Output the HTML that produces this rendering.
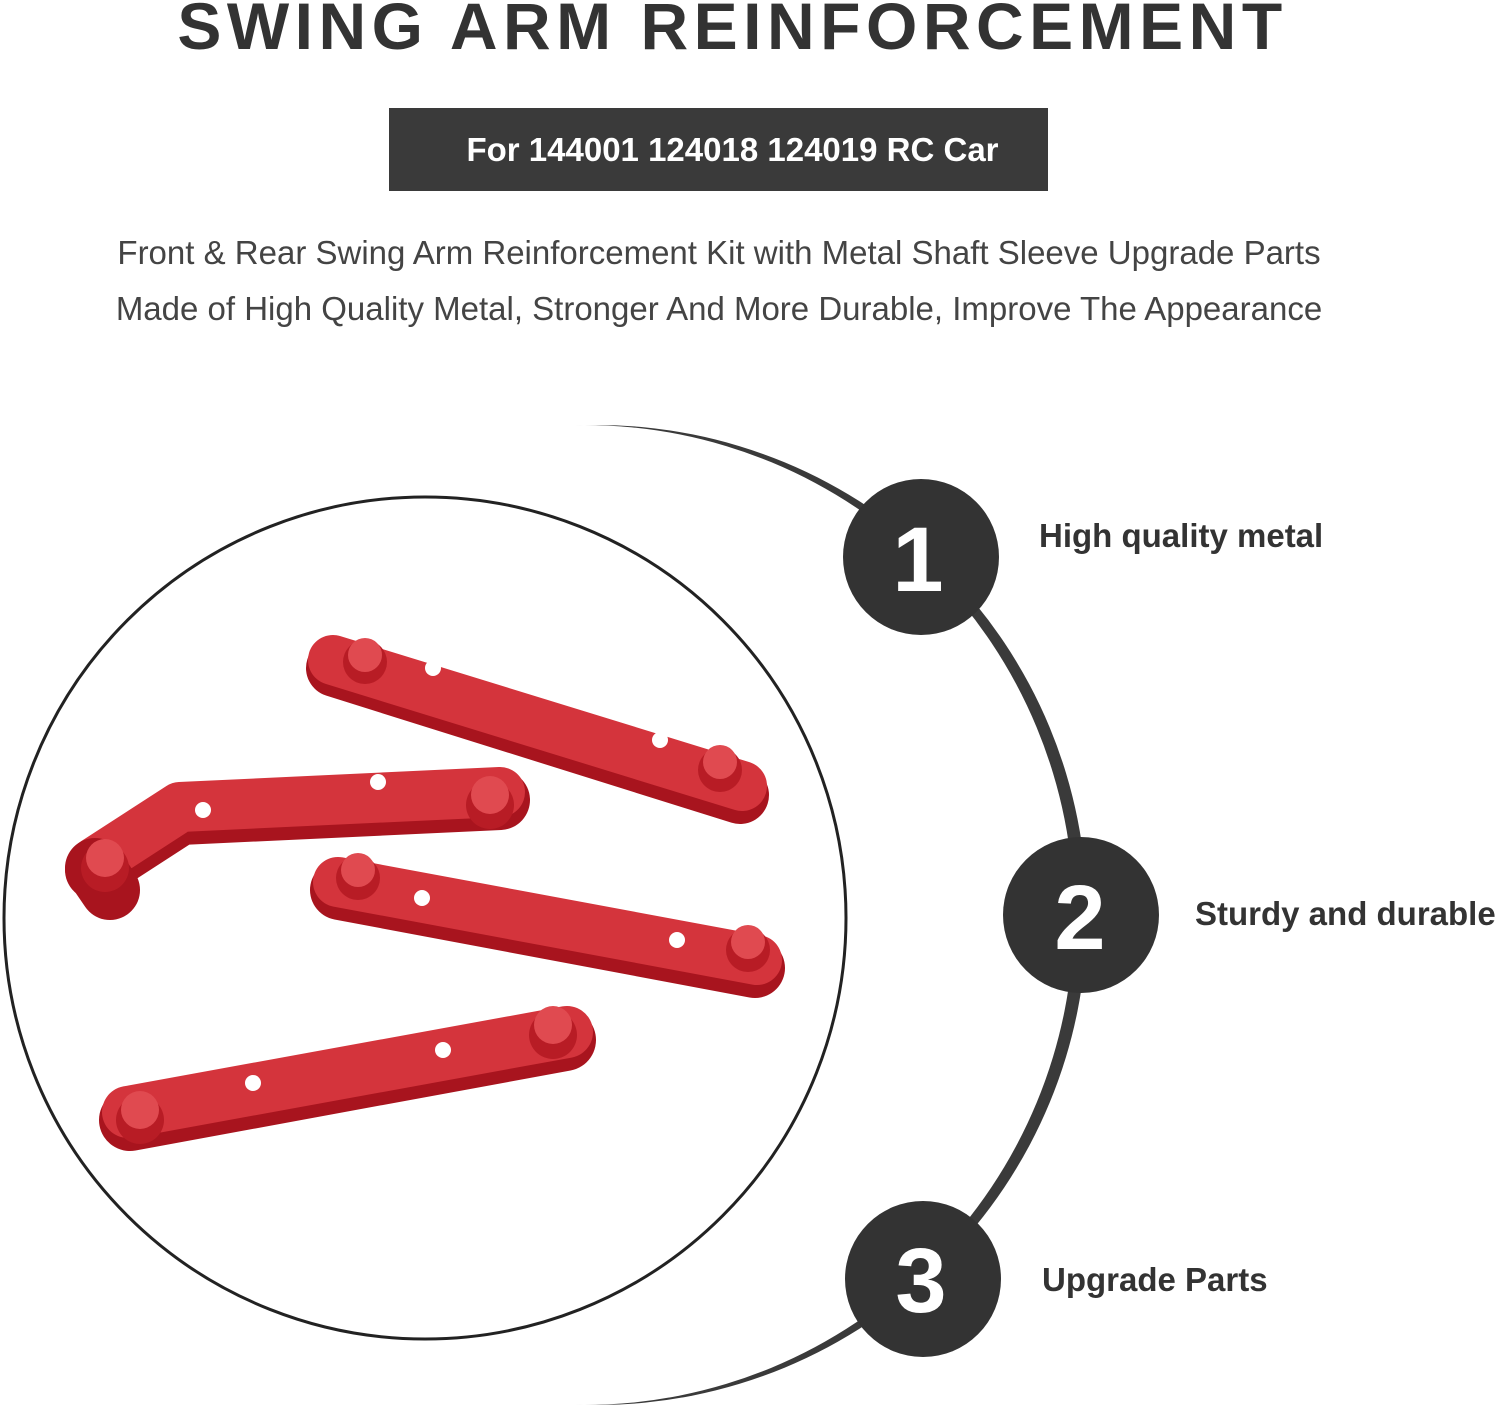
<!DOCTYPE html>
<html><head><style>
html,body{margin:0;padding:0;background:#fff;}
body{width:1500px;height:1412px;position:relative;overflow:hidden;font-family:"Liberation Sans",Arial,sans-serif;}
.t{position:absolute;left:0;width:1465px;text-align:center;}
</style></head><body>
<div class="t" style="top:-12px;font-size:66px;font-weight:bold;color:#333;letter-spacing:5.5px;">SWING ARM REINFORCEMENT</div>
<div style="position:absolute;left:389px;top:108px;width:659px;height:83px;background:#3a3a3a;color:#fff;font-weight:bold;font-size:33px;line-height:83px;text-align:center;box-sizing:border-box;padding-left:28px;">For 144001 124018 124019 RC Car</div>
<div class="t" style="top:234px;font-size:33px;color:#444;left:0;width:1438px;">Front &amp; Rear Swing Arm Reinforcement Kit with Metal Shaft Sleeve Upgrade Parts</div>
<div class="t" style="top:290px;font-size:33px;color:#444;left:0;width:1438px;">Made of High Quality Metal, Stronger And More Durable, Improve The Appearance</div>
<svg width="1500" height="1412" style="position:absolute;left:0;top:0" xmlns="http://www.w3.org/2000/svg">
<circle cx="597" cy="915" r="490" fill="#3a3a3a"/>
<circle cx="584" cy="915" r="490" fill="#fff"/>
<circle cx="425" cy="918" r="421" fill="none" stroke="#222" stroke-width="3"/>
<g fill="#333"><circle cx="921" cy="557" r="78"/><circle cx="1081" cy="915" r="78"/><circle cx="923" cy="1279" r="78"/></g>
<g fill="#fff" font-weight="bold" font-size="92" text-anchor="middle" font-family="Liberation Sans,Arial,sans-serif">
<text x="918" y="591">1</text><text x="1080" y="949">2</text><text x="921" y="1312">3</text></g>
<g fill="#333" font-weight="bold" font-size="33" font-family="Liberation Sans,Arial,sans-serif">
<text x="1039" y="547">High quality metal</text><text x="1195" y="925">Sturdy and durable</text><text x="1042" y="1291">Upgrade Parts</text></g>
<g stroke-linecap="round" fill="none">
<path d="M335 668 L740 795" stroke="#a8141e" stroke-width="58"/>
<path d="M333 660 L742 786" stroke="#d4343c" stroke-width="50"/>
<path d="M95 870 L180 815 L500 800" stroke="#a8141e" stroke-width="60" stroke-linejoin="round"/>
<path d="M95 862 L180 807 L500 792" stroke="#d4343c" stroke-width="50" stroke-linejoin="round"/>
<path d="M95 868 L110 890" stroke="#a8141e" stroke-width="60"/>
<path d="M340 890 L755 968" stroke="#a8141e" stroke-width="60"/>
<path d="M338 882 L757 960" stroke="#d4343c" stroke-width="50"/>
<path d="M130 1120 L565 1040" stroke="#a8141e" stroke-width="62"/>
<path d="M128 1112 L567 1032" stroke="#d4343c" stroke-width="52"/>
</g>
<g fill="#b81c25">
<circle cx="365" cy="662" r="22"/><circle cx="720" cy="770" r="22"/>
<circle cx="105" cy="868" r="24"/><circle cx="490" cy="805" r="24"/>
<circle cx="358" cy="878" r="22"/><circle cx="748" cy="950" r="22"/>
<circle cx="140" cy="1120" r="24"/><circle cx="553" cy="1035" r="24"/>
</g>
<g fill="#e04a50">
<circle cx="365" cy="655" r="17"/><circle cx="720" cy="762" r="17"/>
<circle cx="105" cy="858" r="19"/><circle cx="490" cy="795" r="19"/>
<circle cx="358" cy="870" r="17"/><circle cx="748" cy="942" r="17"/>
<circle cx="140" cy="1110" r="19"/><circle cx="553" cy="1025" r="19"/>
</g>
<g fill="#fff">
<circle cx="433" cy="668" r="8"/><circle cx="660" cy="740" r="8"/>
<circle cx="203" cy="810" r="8"/><circle cx="378" cy="782" r="8"/>
<circle cx="422" cy="898" r="8"/><circle cx="677" cy="940" r="8"/>
<circle cx="253" cy="1083" r="8"/><circle cx="443" cy="1050" r="8"/>
</g>
</svg>
</body></html>
